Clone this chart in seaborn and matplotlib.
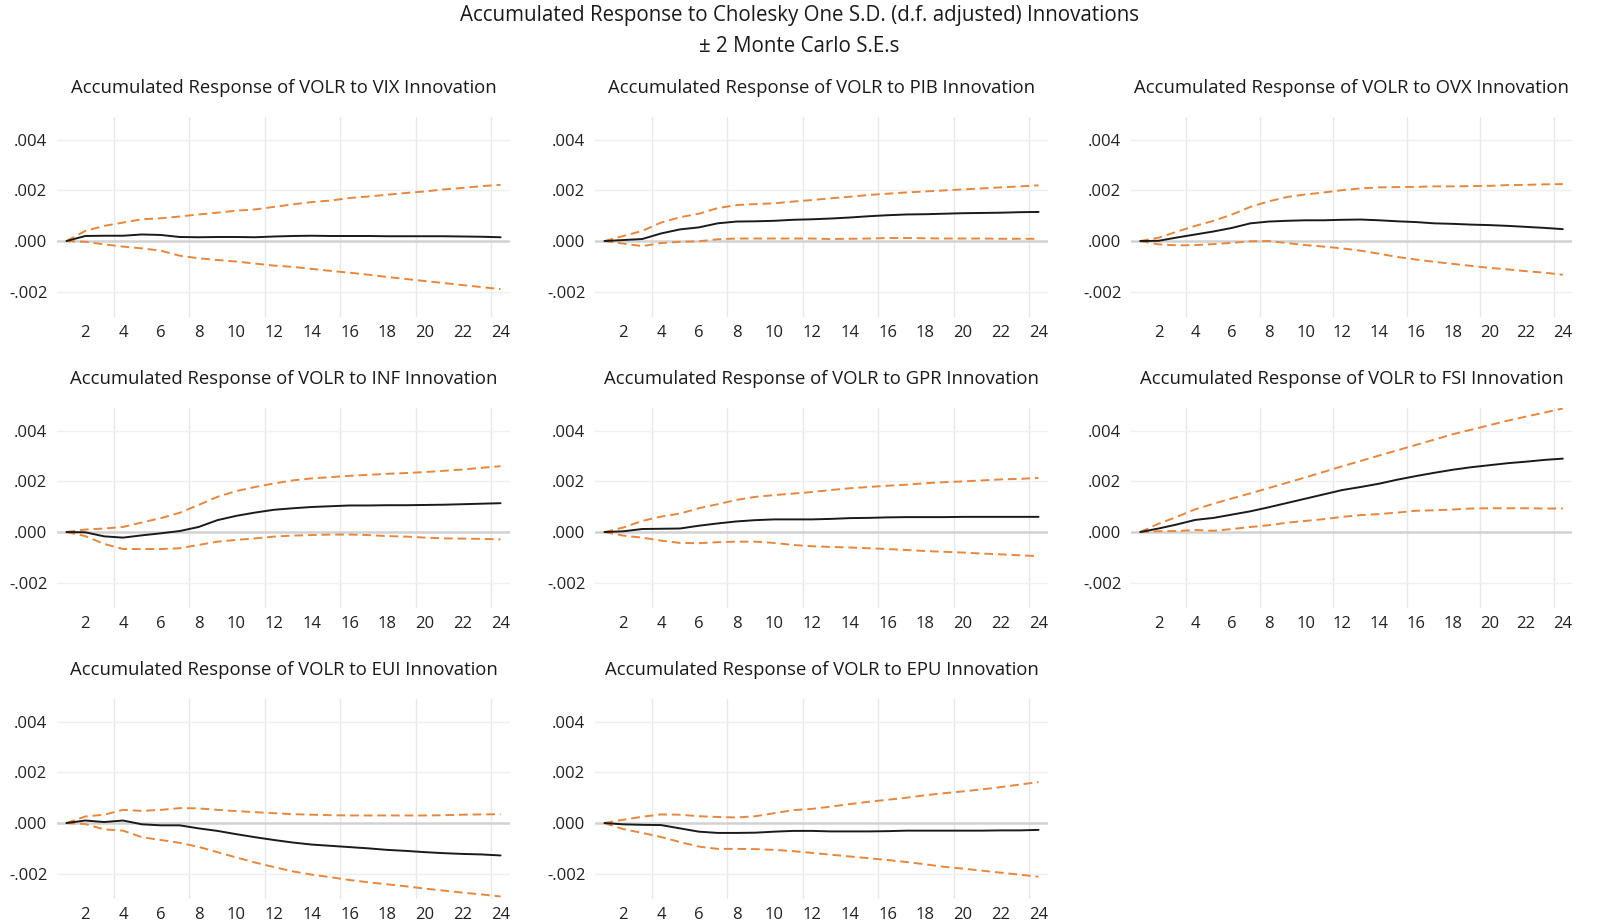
import numpy as np
import pandas as pd
import matplotlib
matplotlib.use("Agg")
import matplotlib.pyplot as plt
import seaborn as sns

periods = list(range(1, 25))

shocks = ["VIX", "PIB", "OVX", "INF", "GPR", "FSI", "EUI", "EPU"]

vix_resp = [0, 0.0002, 0.00021, 0.00021, 0.00026, 0.00024, 0.00016, 0.00015, 0.00016, 0.00016, 0.00015, 0.00018,
            0.0002, 0.00021, 0.0002, 0.0002, 0.0002, 0.00019, 0.00019, 0.00019, 0.00019, 0.00018, 0.00017, 0.00015]
vix_up = [0, 0.0004, 0.0006, 0.00073, 0.00086, 0.0009, 0.00097, 0.00105, 0.00112, 0.0012, 0.00125, 0.00135,
          0.00145, 0.00154, 0.0016, 0.0017, 0.00176, 0.00183, 0.0019, 0.00196, 0.00204, 0.0021, 0.00217, 0.00222]
vix_lo = [0, -0.00003, -0.00013, -0.00022, -0.00029, -0.00038, -0.00058, -0.00068, -0.00075, -0.00081, -0.00089, -0.00097,
          -0.00102, -0.0011, -0.00118, -0.00125, -0.00133, -0.00142, -0.0015, -0.00158, -0.00166, -0.00174, -0.00182, -0.0019]

pib_resp = [0, 0.00004, 0.00008, 0.0003, 0.00046, 0.00054, 0.0007, 0.00077, 0.00078, 0.0008, 0.00084, 0.00086,
            0.00089, 0.00093, 0.00098, 0.00102, 0.00105, 0.00106, 0.00108, 0.0011, 0.00111, 0.00112, 0.00114, 0.00115]
pib_up = [0, 0.0002, 0.0004, 0.00073, 0.00094, 0.00108, 0.0013, 0.00142, 0.00146, 0.00149, 0.00156, 0.00162,
          0.00169, 0.00175, 0.00182, 0.00187, 0.00192, 0.00196, 0.002, 0.00204, 0.00208, 0.00212, 0.00216, 0.0022]
pib_lo = [0, -0.0001, -0.0002, -0.00008, -0.00003, -0.00001, 0.00007, 0.0001, 0.0001, 0.0001, 0.0001, 0.0001,
          0.00008, 0.00009, 0.0001, 0.00012, 0.00012, 0.00011, 0.0001, 0.0001, 0.0001, 0.00009, 0.00009, 0.00009]

ovx_resp = [0, 0.00001, 0.00014, 0.00026, 0.00038, 0.00052, 0.0007, 0.00077, 0.0008, 0.00082, 0.00082, 0.00084,
            0.00085, 0.00082, 0.00078, 0.00075, 0.0007, 0.00068, 0.00065, 0.00063, 0.0006, 0.00056, 0.00052, 0.00047]
ovx_up = [0, 0.00013, 0.00037, 0.0006, 0.0008, 0.00105, 0.00135, 0.00157, 0.00174, 0.00184, 0.00192, 0.00201,
          0.00208, 0.00212, 0.00213, 0.00214, 0.00216, 0.00216, 0.00217, 0.00218, 0.00221, 0.00222, 0.00224, 0.00225]
ovx_lo = [0, -0.00013, -0.00017, -0.00016, -0.00012, -0.00007, -0.00001, 0.0, -0.00008, -0.00016, -0.00022, -0.00029,
          -0.00038, -0.0005, -0.00063, -0.00073, -0.00082, -0.0009, -0.00098, -0.00106, -0.00112, -0.00119, -0.00125, -0.00133]

inf_resp = [0, -0.00001, -0.00017, -0.00022, -0.00013, -0.00005, 0.00004, 0.0002, 0.00047, 0.00064, 0.00077, 0.00088,
            0.00094, 0.00099, 0.00102, 0.00105, 0.00105, 0.00106, 0.00106, 0.00107, 0.00108, 0.0011, 0.00112, 0.00114]
inf_up = [0, 0.0001, 0.00014, 0.0002, 0.00038, 0.00055, 0.00076, 0.00107, 0.00139, 0.00162, 0.00178, 0.00192,
          0.00204, 0.00212, 0.00217, 0.00222, 0.00226, 0.0023, 0.00233, 0.00237, 0.00242, 0.00247, 0.00254, 0.0026]
inf_lo = [0, -0.00016, -0.00047, -0.00067, -0.00067, -0.00067, -0.00064, -0.00051, -0.00038, -0.00031, -0.00025, -0.00018,
          -0.00014, -0.00012, -0.0001, -0.0001, -0.00012, -0.00016, -0.00018, -0.00022, -0.00025, -0.00026, -0.00027, -0.00029]

gpr_resp = [0, 0.00003, 0.00012, 0.00013, 0.00014, 0.00025, 0.00034, 0.00042, 0.00047, 0.0005, 0.0005, 0.0005,
            0.00052, 0.00055, 0.00056, 0.00058, 0.00059, 0.00059, 0.00059, 0.0006, 0.0006, 0.0006, 0.0006, 0.0006]
gpr_up = [0, 0.00018, 0.00044, 0.00061, 0.00073, 0.00094, 0.0011, 0.00127, 0.00139, 0.00146, 0.00152, 0.00158,
          0.00166, 0.00173, 0.00178, 0.00183, 0.00187, 0.00193, 0.00197, 0.002, 0.00204, 0.00208, 0.0021, 0.00214]
gpr_lo = [0, -0.00014, -0.00022, -0.00034, -0.00043, -0.00044, -0.0004, -0.00038, -0.00038, -0.00043, -0.00051, -0.00056,
          -0.00059, -0.00061, -0.00064, -0.00067, -0.00071, -0.00075, -0.00078, -0.00081, -0.00085, -0.00088, -0.00092, -0.00095]

fsi_resp = [0, 0.00014, 0.0003, 0.00048, 0.00056, 0.00069, 0.00082, 0.00098, 0.00115, 0.00132, 0.00149, 0.00166,
            0.00178, 0.00191, 0.00207, 0.00221, 0.00234, 0.00246, 0.00256, 0.00264, 0.00272, 0.00278, 0.00285, 0.0029]
fsi_up = [0, 0.00033, 0.0006, 0.0009, 0.00112, 0.00133, 0.00153, 0.00174, 0.00195, 0.00216, 0.00238, 0.0026,
          0.00281, 0.00302, 0.00323, 0.00344, 0.00365, 0.00386, 0.00404, 0.00422, 0.0044, 0.00456, 0.00472, 0.00488]
fsi_lo = [0, 0.00003, 0.00004, 0.00008, 0.00005, 0.00012, 0.0002, 0.00027, 0.00037, 0.00044, 0.00051, 0.0006,
          0.00067, 0.00071, 0.00077, 0.00084, 0.00086, 0.00089, 0.00093, 0.00094, 0.00094, 0.00094, 0.00093, 0.00093]

eui_resp = [0, 0.0001, 0.00004, 0.0001, -0.00005, -0.00009, -0.00009, -0.00021, -0.00031, -0.00044, -0.00056, -0.00067,
            -0.00077, -0.00085, -0.0009, -0.00095, -0.001, -0.00106, -0.0011, -0.00115, -0.00119, -0.00122, -0.00124, -0.00128]
eui_up = [0, 0.00026, 0.00033, 0.00052, 0.00048, 0.00052, 0.00059, 0.00058, 0.00052, 0.00047, 0.00043, 0.00039,
          0.00035, 0.00033, 0.00031, 0.0003, 0.0003, 0.0003, 0.0003, 0.0003, 0.00031, 0.00033, 0.00034, 0.00035]
eui_lo = [0, -0.00004, -0.00025, -0.0003, -0.00056, -0.00067, -0.00078, -0.00094, -0.00115, -0.00136, -0.00156, -0.00174,
          -0.00191, -0.00204, -0.00214, -0.00225, -0.00234, -0.00242, -0.0025, -0.00259, -0.00267, -0.00275, -0.00282, -0.0029]

epu_resp = [0, -0.00005, -0.00007, -0.00008, -0.00021, -0.00034, -0.00039, -0.00039, -0.00038, -0.00034, -0.00031, -0.00031,
            -0.00033, -0.00033, -0.00033, -0.00032, -0.0003, -0.0003, -0.0003, -0.0003, -0.0003, -0.00029, -0.00029, -0.00027]
epu_up = [0, 0.00013, 0.00025, 0.00034, 0.00033, 0.00027, 0.00024, 0.00022, 0.00027, 0.00039, 0.00051, 0.00056,
          0.00065, 0.00075, 0.00084, 0.00092, 0.001, 0.0011, 0.00118, 0.00125, 0.00133, 0.00142, 0.00152, 0.00162]
epu_lo = [0, -0.00024, -0.00039, -0.00055, -0.00075, -0.00093, -0.00102, -0.00102, -0.00103, -0.00106, -0.00111, -0.00118,
          -0.00125, -0.00132, -0.00139, -0.00146, -0.00154, -0.00163, -0.00173, -0.0018, -0.00188, -0.00196, -0.00204, -0.00212]

series = {
    "VIX": (vix_resp, vix_up, vix_lo),
    "PIB": (pib_resp, pib_up, pib_lo),
    "OVX": (ovx_resp, ovx_up, ovx_lo),
    "INF": (inf_resp, inf_up, inf_lo),
    "GPR": (gpr_resp, gpr_up, gpr_lo),
    "FSI": (fsi_resp, fsi_up, fsi_lo),
    "EUI": (eui_resp, eui_up, eui_lo),
    "EPU": (epu_resp, epu_up, epu_lo),
}

ytick_vals = [-0.002, 0.0, 0.002, 0.004]
ytick_labels = ["-.002", ".000", ".002", ".004"]
xtick_vals = list(range(2, 25, 2))

sns.set_theme(style="white")
plt.rcParams["font.family"] = ["Open Sans", "DejaVu Sans"]

W, H = 1598, 923
fig = plt.figure(figsize=(W / 100, H / 100), dpi=100)

col_left = [57, 595, 1131]
col_w = [453, 453, 441]
row_top = [117, 408, 699]
row_h = 200

orange = "#E6873D"
black = "#1a1a1a"

for i, s in enumerate(shocks):
    r, c = divmod(i, 3)
    left = col_left[c] / W
    bottom = 1 - (row_top[r] + row_h) / H
    ax = fig.add_axes([left, bottom, col_w[c] / W, row_h / H])
    resp, up, lo = series[s]
    df = pd.DataFrame({"period": periods, "resp": resp, "up": up, "lo": lo})
    for x in [3.5, 7.5, 11.5, 15.5, 19.5, 23.5]:
        ax.axvline(x, color="#e8e8e8", lw=1.0, zorder=0)
    for y in [-0.002, 0.002, 0.004]:
        ax.axhline(y, color="#efefef", lw=1.0, zorder=0)
    ax.axhline(0, color="#d2d2d2", lw=1.8, zorder=0)
    sns.lineplot(data=df, x="period", y="up", ax=ax, color=orange, lw=1.4, dashes=False)
    sns.lineplot(data=df, x="period", y="lo", ax=ax, color=orange, lw=1.4, dashes=False)
    for ln in ax.get_lines()[-2:]:
        ln.set_dashes([4.5, 2.5])
    sns.lineplot(data=df, x="period", y="resp", ax=ax, color=black, lw=1.4)
    ax.set_xlim(0.5, 24.5)
    ax.set_ylim(-0.003, 0.0049)
    ax.set_xticks(xtick_vals)
    ax.set_xticklabels([str(v) for v in xtick_vals], fontsize=12, color="#222222")
    ax.set_yticks(ytick_vals)
    ax.set_yticklabels(ytick_labels, fontsize=12, color="#222222")
    ax.tick_params(axis="x", length=0, pad=6)
    ax.tick_params(axis="y", length=0, pad=7)
    ax.set_xlabel("")
    ax.set_ylabel("")
    ax.grid(False)
    for sp in ax.spines.values():
        sp.set_visible(False)
    ax.set_title(f"Accumulated Response of VOLR to {s} Innovation", fontsize=13.3,
                 color="#1a1a1a", pad=17, x=0.5)

fig.text(0.5, 1 - 16 / H, "Accumulated Response to Cholesky One S.D. (d.f. adjusted) Innovations",
         ha="center", va="center", fontsize=14.8, color="#1a1a1a")
fig.text(0.5, 1 - 46 / H, "± 2 Monte Carlo S.E.s", ha="center", va="center", fontsize=14.8, color="#1a1a1a")

fig.savefig("out.png", dpi=100)
